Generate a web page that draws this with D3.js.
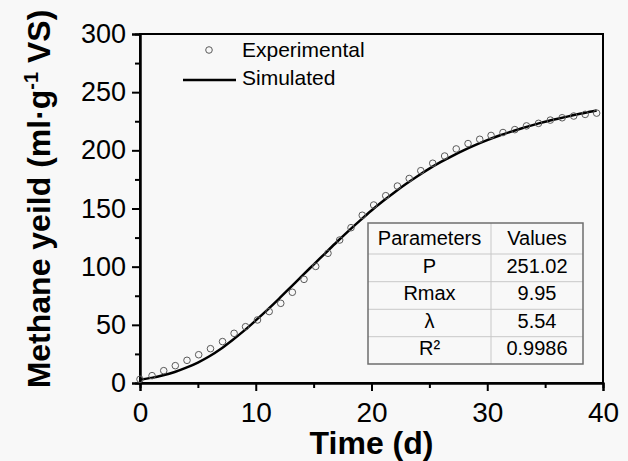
<!DOCTYPE html>
<html>
<head>
<meta charset="utf-8">
<script src="https://cdn.jsdelivr.net/npm/d3@7"></script>
<style>
    html, body { margin: 0; padding: 0; background: #f8f8f8; }
    svg { display: block; font-family: Arial, 'Liberation Sans', sans-serif; }
</style>
</head>
<body>
<svg id="chart" width="628" height="461"></svg>
<script>
// experimental points (time in days, yield in ml/g VS)
const expTime = [0, 1.04, 2.05, 3.05, 4.06, 5.07, 6.09, 7.13, 8.13, 9.12, 10.15, 11.16, 12.16, 13.16, 14.17, 15.18, 16.24, 17.25, 18.23, 19.2,
    20.19, 21.23, 22.24, 23.26, 24.26, 25.29, 26.32, 27.32, 28.34, 29.35, 30.33, 31.36, 32.38, 33.39, 34.43, 35.45, 36.47, 37.47, 38.46, 39.45];
const expYield = [3.2, 6.3, 10.6, 14.9, 19.5, 24.3, 29.5, 35.6, 42.7, 48.4, 54.2, 61.4, 68.5, 78, 89.1, 100.2, 111.5, 122.9, 133.5, 144.2,
    153, 161, 169.3, 175.8, 182.5, 188.9, 195.1, 201.2, 205.8, 209.5, 212.8, 215.3, 217.8, 221, 223.2, 226, 228, 229.5, 230.9, 232];

// simulated curve
const simTime = [0, 1, 2, 3, 4, 5, 6, 7, 8, 9, 10, 11, 12, 13, 14, 15, 16, 17, 18, 19,
    20, 21, 22, 23, 24, 25, 26, 27, 28, 29, 30, 31, 32, 33, 34, 35, 36, 37, 38, 39, 39.45];
const simYield = [3.0, 4.4, 6.6, 9.5, 13.2, 17.6, 23, 29.5, 37, 45, 53.8, 62.9, 72.4, 82.2, 92.1, 101.8, 111.5, 121.2, 130.6, 139.6,
    148.3, 156.4, 164, 171.2, 178, 184.3, 190, 195.3, 200.2, 204.7, 208.8, 212.5, 215.9, 219, 221.9, 224.5, 226.9, 229.2, 231.4, 233.4, 234.3];

const xTicks = [0, 10, 20, 30, 40];
const xMinor = [5, 15, 25, 35];
const yTicks = [0, 50, 100, 150, 200, 250, 300];
const yMinor = [25, 75, 125, 175, 225, 275];

const paramNames = ['P', 'Rmax', 'λ', 'R²'];
const paramValues = ['251.02', '9.95', '5.54', '0.9986'];

const plotLeft = 140, plotRight = 603, plotTop = 34, plotBottom = 383;
const font = 'Arial, Liberation Sans, sans-serif';

const svg = d3.select('#chart');
svg.append('rect').attr('width', 628).attr('height', 461).attr('fill', '#f8f8f8');

const x = d3.scaleLinear().domain([0, 40]).range([plotLeft, plotRight]);
const y = d3.scaleLinear().domain([0, 300]).range([plotBottom, plotTop]);

// frame
svg.append('rect')
    .attr('x', plotLeft).attr('y', plotTop)
    .attr('width', plotRight - plotLeft).attr('height', plotBottom - plotTop)
    .attr('fill', 'none').attr('stroke', '#000').attr('stroke-width', 2);

const xAxis = svg.append('g').attr('transform', `translate(0,${plotBottom})`)
    .call(d3.axisBottom(x).tickValues(xTicks).tickSize(8).tickFormat(d3.format('d')));
svg.append('g').attr('transform', `translate(0,${plotBottom})`)
    .call(d3.axisBottom(x).tickValues(xMinor).tickSize(5).tickFormat(''));
const yAxis = svg.append('g').attr('transform', `translate(${plotLeft},0)`)
    .call(d3.axisLeft(y).tickValues(yTicks).tickSize(8).tickFormat(d3.format('d')));
svg.append('g').attr('transform', `translate(${plotLeft},0)`)
    .call(d3.axisLeft(y).tickValues(yMinor).tickSize(5).tickFormat(''));

svg.selectAll('.domain').attr('stroke', '#000').attr('stroke-width', 2);
svg.selectAll('.tick line').attr('stroke', '#000').attr('stroke-width', 2);
xAxis.selectAll('text')
    .attr('y', 39).attr('dy', null)
    .attr('font-size', 28).attr('font-family', font).attr('fill', '#000');
yAxis.selectAll('text')
    .attr('x', -14)
    .attr('font-size', 27).attr('font-family', font).attr('fill', '#000');

// axis titles
svg.append('text')
    .attr('x', (plotLeft + plotRight) / 2).attr('y', 454)
    .attr('text-anchor', 'middle').attr('font-size', 32).attr('font-weight', 'bold')
    .text('Time (d)');

const yTitle = svg.append('text')
    .attr('transform', 'translate(50,199) rotate(-90)')
    .attr('text-anchor', 'middle').attr('font-size', 32).attr('font-weight', 'bold');
yTitle.append('tspan').text('Methane yeild (ml·g');
yTitle.append('tspan').attr('font-size', 20).attr('dy', -12).text('-1');
yTitle.append('tspan').attr('dy', 12).text(' VS)');

// simulated line
const line = d3.line().x((d, i) => x(simTime[i])).y(d => y(d)).curve(d3.curveMonotoneX);
svg.append('path')
    .datum(simYield)
    .attr('d', line)
    .attr('fill', 'none').attr('stroke', '#000').attr('stroke-width', 2.5);

// experimental points
svg.append('g').selectAll('circle')
    .data(expYield)
    .join('circle')
    .attr('cx', (d, i) => x(expTime[i]))
    .attr('cy', d => y(d))
    .attr('r', 3.3)
    .attr('fill', 'none').attr('stroke', '#5a5a5a').attr('stroke-width', 1);

// legend
const legend = svg.append('g');
legend.append('circle').attr('cx', 209).attr('cy', 50).attr('r', 3.3)
    .attr('fill', 'none').attr('stroke', '#5a5a5a').attr('stroke-width', 1);
legend.append('line').attr('x1', 183).attr('x2', 236).attr('y1', 80).attr('y2', 80)
    .attr('stroke', '#000').attr('stroke-width', 2.5);
legend.append('text').attr('x', 242).attr('y', 57).attr('font-size', 21).text('Experimental');
legend.append('text').attr('x', 242).attr('y', 85).attr('font-size', 21).text('Simulated');

// parameter table
const tx0 = 368, tx1 = 491, tx2 = 583;
const rowY = [223, 254, 281.7, 309.3, 336.7, 364];
const table = svg.append('g');
table.append('rect')
    .attr('x', tx0).attr('y', rowY[0]).attr('width', tx2 - tx0).attr('height', rowY[5] - rowY[0])
    .attr('fill', '#f8f8f8');
table.selectAll('.hline').data(rowY.slice(1, 5)).join('line').attr('class', 'hline')
    .attr('x1', tx0).attr('x2', tx2).attr('y1', d => d).attr('y2', d => d)
    .attr('stroke', '#c8c8c8').attr('stroke-width', 1);
table.append('line')
    .attr('x1', tx1).attr('x2', tx1).attr('y1', rowY[0]).attr('y2', rowY[5])
    .attr('stroke', '#c8c8c8').attr('stroke-width', 1);
table.append('rect')
    .attr('x', tx0).attr('y', rowY[0]).attr('width', tx2 - tx0).attr('height', rowY[5] - rowY[0])
    .attr('fill', 'none').attr('stroke', '#6e6e6e').attr('stroke-width', 1.5);

const rows = [['Parameters', 'Values']].concat(paramNames.map((n, i) => [n, paramValues[i]]));
rows.forEach((row, i) => {
    const base = rowY[i + 1] - 9;
    table.append('text').attr('x', (tx0 + tx1) / 2).attr('y', base)
        .attr('text-anchor', 'middle').attr('font-size', 20).text(row[0]);
    table.append('text').attr('x', (tx1 + tx2) / 2).attr('y', base)
        .attr('text-anchor', 'middle').attr('font-size', 20).text(row[1]);
});
</script>
</body>
</html>
